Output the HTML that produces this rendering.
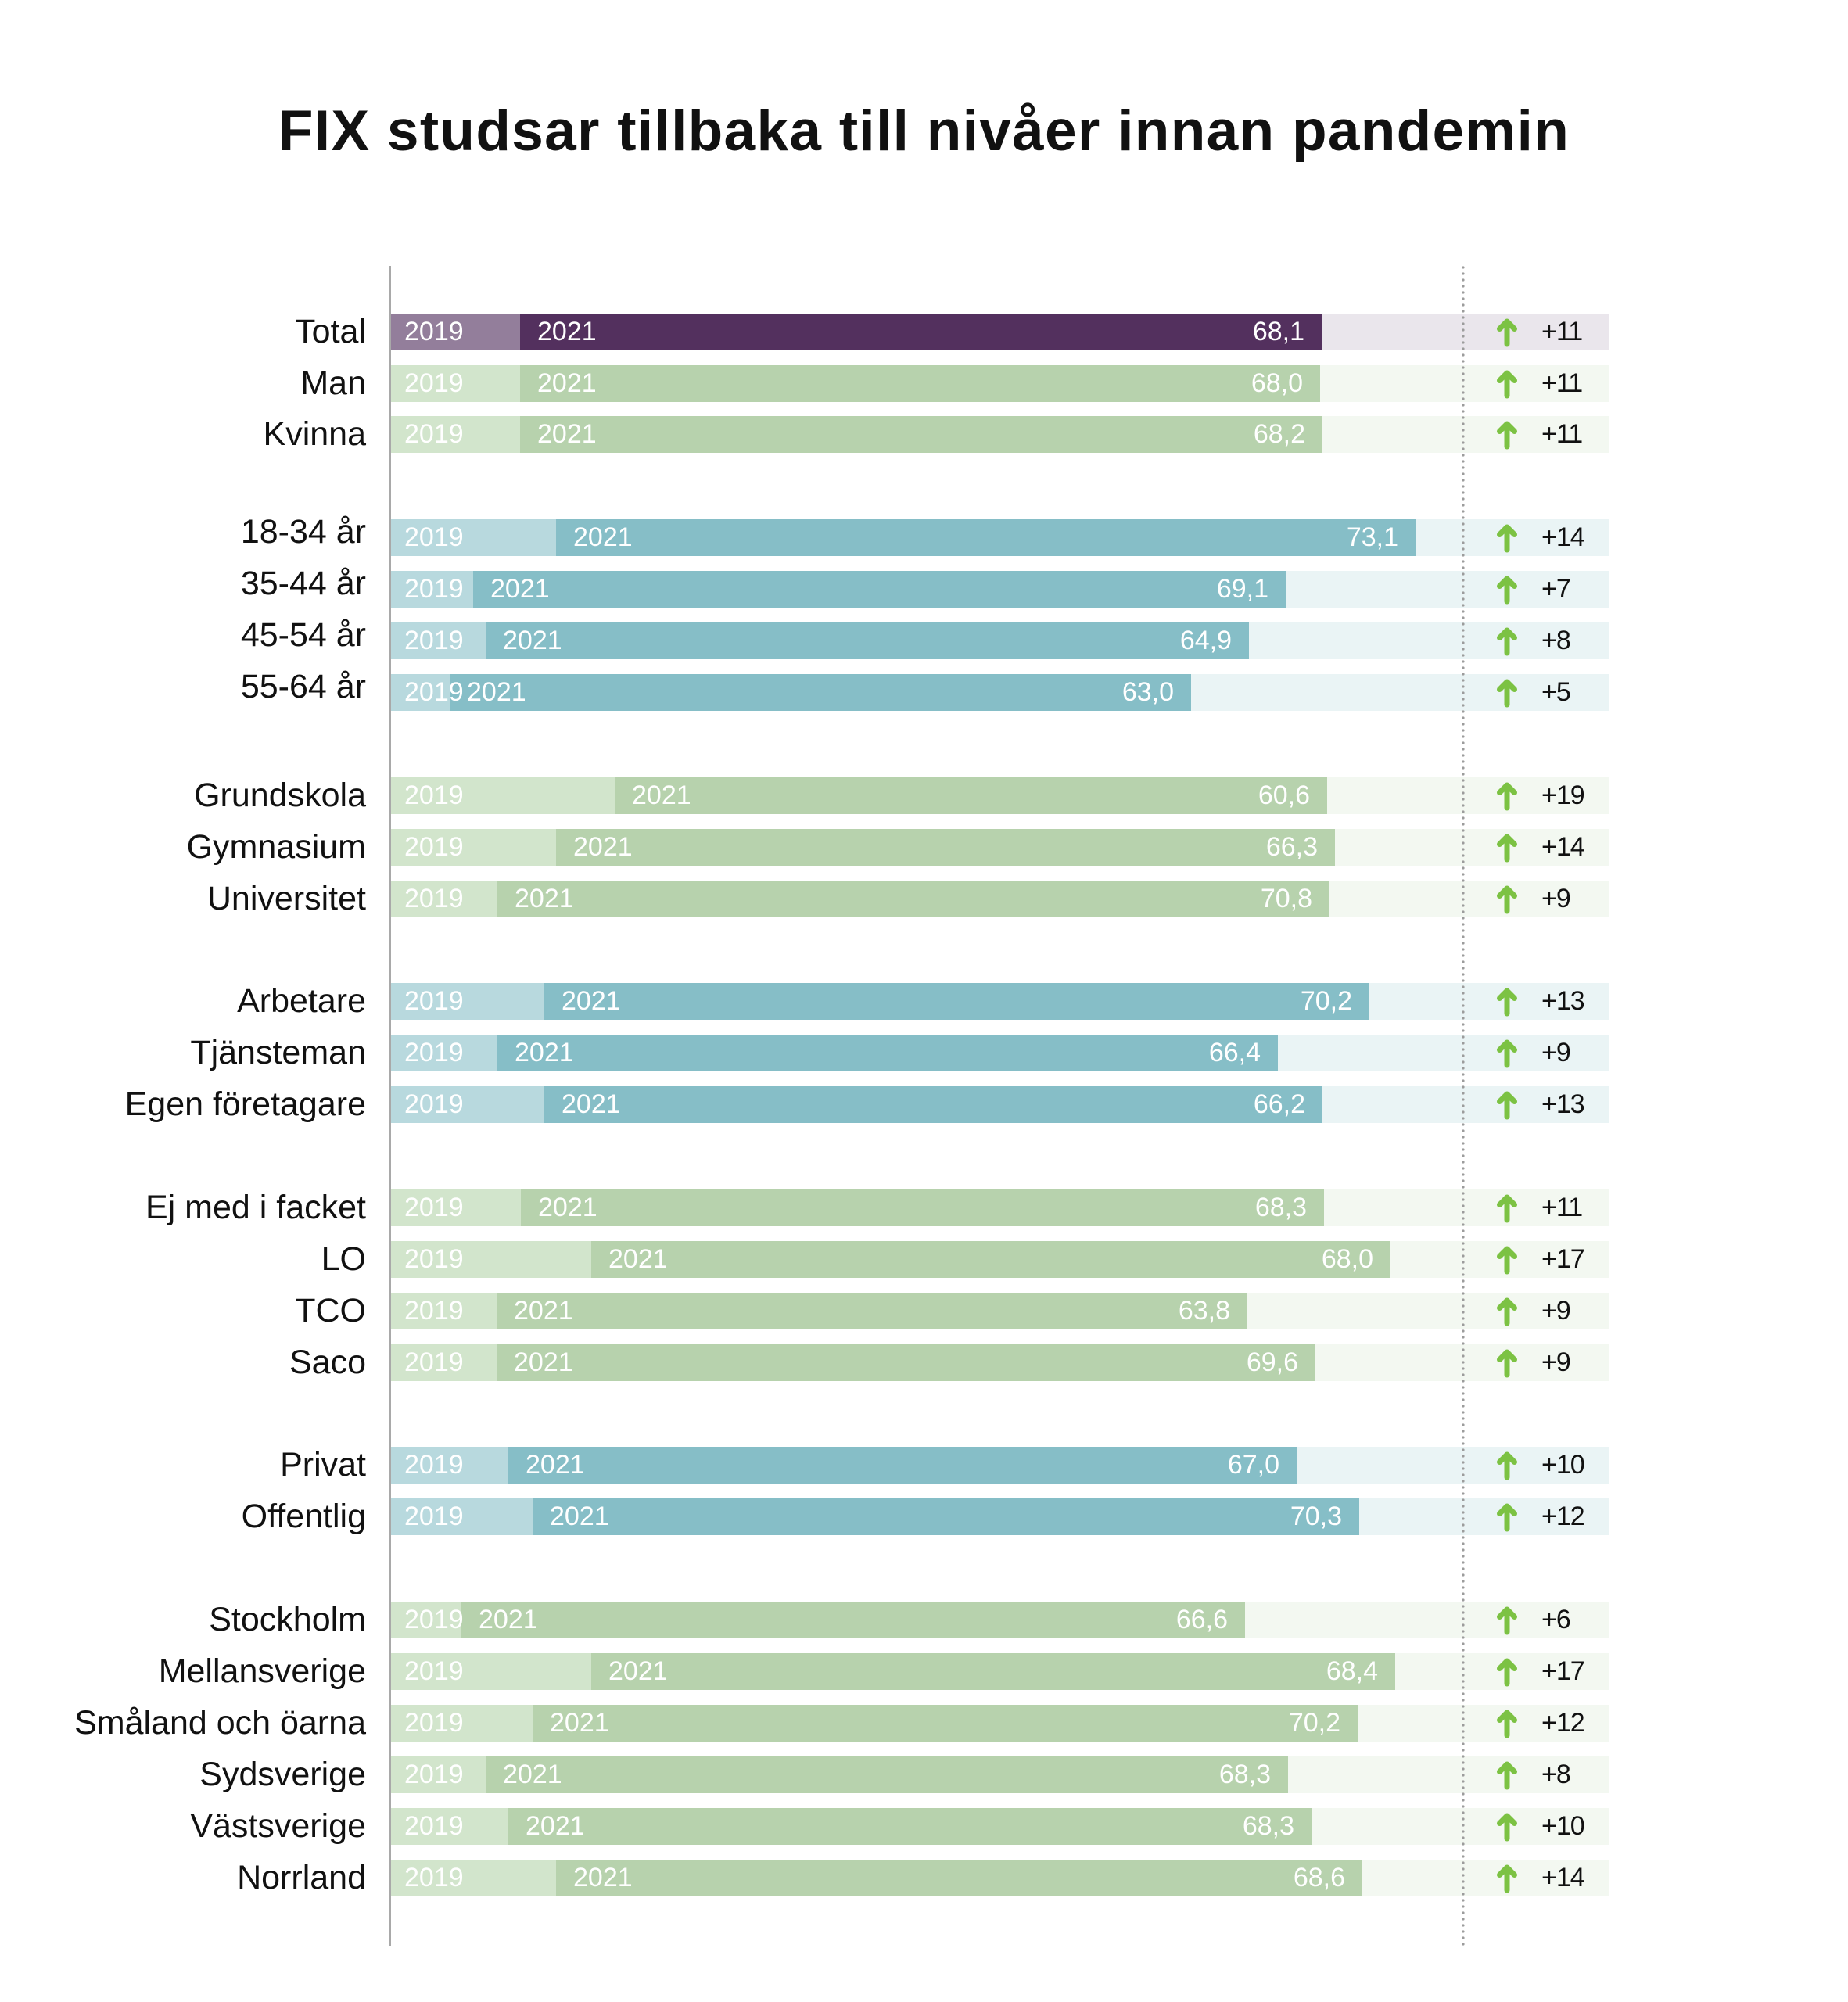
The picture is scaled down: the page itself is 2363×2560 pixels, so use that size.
<!DOCTYPE html>
<html lang="sv">
<head>
<meta charset="utf-8">
<style>
html,body{margin:0;padding:0;background:#fff;}
body{width:2363px;height:2560px;position:relative;overflow:hidden;font-family:"Liberation Sans",Arial,sans-serif;}
.title{position:absolute;left:0;top:128px;width:2363px;text-align:center;font-weight:bold;font-size:73px;line-height:80px;letter-spacing:1.3px;color:#111;white-space:nowrap;}
.axis{position:absolute;left:497px;top:340px;width:3px;height:2149px;background:#a9a9a9;}
.dots{position:absolute;left:1868px;top:340px;z-index:5;}
.r{position:absolute;left:0;width:2363px;height:47px;}
.r > *{position:absolute;top:0;height:47px;line-height:47px;white-space:nowrap;}
.lb{left:0;width:468px;text-align:right;font-size:43px;color:#111;}
.lb.up{top:-7px;}
.bg{left:500px;width:1557px;}
.a{left:500px;}
.y1{left:517px;font-size:34px;color:#fff;}
.y2{font-size:34px;color:#fff;}
.v{font-size:34px;color:#fff;text-align:right;}
.ar{left:1912px;width:30px;}
.d{left:1971px;font-size:34px;color:#111;letter-spacing:-1px;}
.p .bg{background:#EAE6EC}.p .a{background:#937E9B}.p .b{background:#53305E}
.g .bg{background:#F3F8F1}.g .a{background:#D2E5CC}.g .b{background:#B7D2AD}
.t .bg{background:#EAF4F5}.t .a{background:#B8D9DE}.t .b{background:#86BEC7}
</style>
</head>
<body>
<div class="title">FIX studsar tillbaka till nivåer innan pandemin</div>
<div class="axis"></div>
<svg class="dots" width="6" height="2150" viewBox="0 0 6 2150"><line x1="3" y1="2" x2="3" y2="2148" stroke="#9c9c9c" stroke-width="3.2" stroke-dasharray="0 8" stroke-linecap="round"/></svg>

<div class="r p" style="top:401px"><div class="lb">Total</div><div class="bg"></div><div class="a" style="width:165px"></div><div class="b" style="left:665px;width:1025px"></div><span class="y1">2019</span><span class="y2" style="left:687px">2021</span><span class="v" style="right:695px">68,1</span><svg class="ar" viewBox="0 0 30 47"><path d="M15 39V11M5.5 19.5L15 10L24.5 19.5" fill="none" stroke="#7CC243" stroke-width="7" stroke-linecap="round" stroke-linejoin="round"/></svg><span class="d">+11</span></div>

<div class="r g" style="top:467px"><div class="lb">Man</div><div class="bg"></div><div class="a" style="width:165px"></div><div class="b" style="left:665px;width:1023px"></div><span class="y1">2019</span><span class="y2" style="left:687px">2021</span><span class="v" style="right:697px">68,0</span><svg class="ar" viewBox="0 0 30 47"><path d="M15 39V11M5.5 19.5L15 10L24.5 19.5" fill="none" stroke="#7CC243" stroke-width="7" stroke-linecap="round" stroke-linejoin="round"/></svg><span class="d">+11</span></div>

<div class="r g" style="top:532px"><div class="lb">Kvinna</div><div class="bg"></div><div class="a" style="width:165px"></div><div class="b" style="left:665px;width:1026px"></div><span class="y1">2019</span><span class="y2" style="left:687px">2021</span><span class="v" style="right:694px">68,2</span><svg class="ar" viewBox="0 0 30 47"><path d="M15 39V11M5.5 19.5L15 10L24.5 19.5" fill="none" stroke="#7CC243" stroke-width="7" stroke-linecap="round" stroke-linejoin="round"/></svg><span class="d">+11</span></div>

<div class="r t" style="top:664px"><div class="lb up">18-34 år</div><div class="bg"></div><div class="a" style="width:211px"></div><div class="b" style="left:711px;width:1099px"></div><span class="y1">2019</span><span class="y2" style="left:733px">2021</span><span class="v" style="right:575px">73,1</span><svg class="ar" viewBox="0 0 30 47"><path d="M15 39V11M5.5 19.5L15 10L24.5 19.5" fill="none" stroke="#7CC243" stroke-width="7" stroke-linecap="round" stroke-linejoin="round"/></svg><span class="d">+14</span></div>

<div class="r t" style="top:730px"><div class="lb up">35-44 år</div><div class="bg"></div><div class="a" style="width:105px"></div><div class="b" style="left:605px;width:1039px"></div><span class="y1">2019</span><span class="y2" style="left:627px">2021</span><span class="v" style="right:741px">69,1</span><svg class="ar" viewBox="0 0 30 47"><path d="M15 39V11M5.5 19.5L15 10L24.5 19.5" fill="none" stroke="#7CC243" stroke-width="7" stroke-linecap="round" stroke-linejoin="round"/></svg><span class="d">+7</span></div>

<div class="r t" style="top:796px"><div class="lb up">45-54 år</div><div class="bg"></div><div class="a" style="width:121px"></div><div class="b" style="left:621px;width:976px"></div><span class="y1">2019</span><span class="y2" style="left:643px">2021</span><span class="v" style="right:788px">64,9</span><svg class="ar" viewBox="0 0 30 47"><path d="M15 39V11M5.5 19.5L15 10L24.5 19.5" fill="none" stroke="#7CC243" stroke-width="7" stroke-linecap="round" stroke-linejoin="round"/></svg><span class="d">+8</span></div>

<div class="r t" style="top:862px"><div class="lb up">55-64 år</div><div class="bg"></div><div class="a" style="width:75px"></div><div class="b" style="left:575px;width:948px"></div><span class="y1">2019</span><span class="y2" style="left:597px">2021</span><span class="v" style="right:862px">63,0</span><svg class="ar" viewBox="0 0 30 47"><path d="M15 39V11M5.5 19.5L15 10L24.5 19.5" fill="none" stroke="#7CC243" stroke-width="7" stroke-linecap="round" stroke-linejoin="round"/></svg><span class="d">+5</span></div>

<div class="r g" style="top:994px"><div class="lb">Grundskola</div><div class="bg"></div><div class="a" style="width:286px"></div><div class="b" style="left:786px;width:911px"></div><span class="y1">2019</span><span class="y2" style="left:808px">2021</span><span class="v" style="right:688px">60,6</span><svg class="ar" viewBox="0 0 30 47"><path d="M15 39V11M5.5 19.5L15 10L24.5 19.5" fill="none" stroke="#7CC243" stroke-width="7" stroke-linecap="round" stroke-linejoin="round"/></svg><span class="d">+19</span></div>

<div class="r g" style="top:1060px"><div class="lb">Gymnasium</div><div class="bg"></div><div class="a" style="width:211px"></div><div class="b" style="left:711px;width:996px"></div><span class="y1">2019</span><span class="y2" style="left:733px">2021</span><span class="v" style="right:678px">66,3</span><svg class="ar" viewBox="0 0 30 47"><path d="M15 39V11M5.5 19.5L15 10L24.5 19.5" fill="none" stroke="#7CC243" stroke-width="7" stroke-linecap="round" stroke-linejoin="round"/></svg><span class="d">+14</span></div>

<div class="r g" style="top:1126px"><div class="lb">Universitet</div><div class="bg"></div><div class="a" style="width:136px"></div><div class="b" style="left:636px;width:1064px"></div><span class="y1">2019</span><span class="y2" style="left:658px">2021</span><span class="v" style="right:685px">70,8</span><svg class="ar" viewBox="0 0 30 47"><path d="M15 39V11M5.5 19.5L15 10L24.5 19.5" fill="none" stroke="#7CC243" stroke-width="7" stroke-linecap="round" stroke-linejoin="round"/></svg><span class="d">+9</span></div>

<div class="r t" style="top:1257px"><div class="lb">Arbetare</div><div class="bg"></div><div class="a" style="width:196px"></div><div class="b" style="left:696px;width:1055px"></div><span class="y1">2019</span><span class="y2" style="left:718px">2021</span><span class="v" style="right:634px">70,2</span><svg class="ar" viewBox="0 0 30 47"><path d="M15 39V11M5.5 19.5L15 10L24.5 19.5" fill="none" stroke="#7CC243" stroke-width="7" stroke-linecap="round" stroke-linejoin="round"/></svg><span class="d">+13</span></div>

<div class="r t" style="top:1323px"><div class="lb">Tjänsteman</div><div class="bg"></div><div class="a" style="width:136px"></div><div class="b" style="left:636px;width:998px"></div><span class="y1">2019</span><span class="y2" style="left:658px">2021</span><span class="v" style="right:751px">66,4</span><svg class="ar" viewBox="0 0 30 47"><path d="M15 39V11M5.5 19.5L15 10L24.5 19.5" fill="none" stroke="#7CC243" stroke-width="7" stroke-linecap="round" stroke-linejoin="round"/></svg><span class="d">+9</span></div>

<div class="r t" style="top:1389px"><div class="lb">Egen företagare</div><div class="bg"></div><div class="a" style="width:196px"></div><div class="b" style="left:696px;width:995px"></div><span class="y1">2019</span><span class="y2" style="left:718px">2021</span><span class="v" style="right:694px">66,2</span><svg class="ar" viewBox="0 0 30 47"><path d="M15 39V11M5.5 19.5L15 10L24.5 19.5" fill="none" stroke="#7CC243" stroke-width="7" stroke-linecap="round" stroke-linejoin="round"/></svg><span class="d">+13</span></div>

<div class="r g" style="top:1521px"><div class="lb">Ej med i facket</div><div class="bg"></div><div class="a" style="width:166px"></div><div class="b" style="left:666px;width:1027px"></div><span class="y1">2019</span><span class="y2" style="left:688px">2021</span><span class="v" style="right:692px">68,3</span><svg class="ar" viewBox="0 0 30 47"><path d="M15 39V11M5.5 19.5L15 10L24.5 19.5" fill="none" stroke="#7CC243" stroke-width="7" stroke-linecap="round" stroke-linejoin="round"/></svg><span class="d">+11</span></div>

<div class="r g" style="top:1587px"><div class="lb">LO</div><div class="bg"></div><div class="a" style="width:256px"></div><div class="b" style="left:756px;width:1022px"></div><span class="y1">2019</span><span class="y2" style="left:778px">2021</span><span class="v" style="right:607px">68,0</span><svg class="ar" viewBox="0 0 30 47"><path d="M15 39V11M5.5 19.5L15 10L24.5 19.5" fill="none" stroke="#7CC243" stroke-width="7" stroke-linecap="round" stroke-linejoin="round"/></svg><span class="d">+17</span></div>

<div class="r g" style="top:1653px"><div class="lb">TCO</div><div class="bg"></div><div class="a" style="width:135px"></div><div class="b" style="left:635px;width:960px"></div><span class="y1">2019</span><span class="y2" style="left:657px">2021</span><span class="v" style="right:790px">63,8</span><svg class="ar" viewBox="0 0 30 47"><path d="M15 39V11M5.5 19.5L15 10L24.5 19.5" fill="none" stroke="#7CC243" stroke-width="7" stroke-linecap="round" stroke-linejoin="round"/></svg><span class="d">+9</span></div>

<div class="r g" style="top:1719px"><div class="lb">Saco</div><div class="bg"></div><div class="a" style="width:135px"></div><div class="b" style="left:635px;width:1047px"></div><span class="y1">2019</span><span class="y2" style="left:657px">2021</span><span class="v" style="right:703px">69,6</span><svg class="ar" viewBox="0 0 30 47"><path d="M15 39V11M5.5 19.5L15 10L24.5 19.5" fill="none" stroke="#7CC243" stroke-width="7" stroke-linecap="round" stroke-linejoin="round"/></svg><span class="d">+9</span></div>

<div class="r t" style="top:1850px"><div class="lb">Privat</div><div class="bg"></div><div class="a" style="width:150px"></div><div class="b" style="left:650px;width:1008px"></div><span class="y1">2019</span><span class="y2" style="left:672px">2021</span><span class="v" style="right:727px">67,0</span><svg class="ar" viewBox="0 0 30 47"><path d="M15 39V11M5.5 19.5L15 10L24.5 19.5" fill="none" stroke="#7CC243" stroke-width="7" stroke-linecap="round" stroke-linejoin="round"/></svg><span class="d">+10</span></div>

<div class="r t" style="top:1916px"><div class="lb">Offentlig</div><div class="bg"></div><div class="a" style="width:181px"></div><div class="b" style="left:681px;width:1057px"></div><span class="y1">2019</span><span class="y2" style="left:703px">2021</span><span class="v" style="right:647px">70,3</span><svg class="ar" viewBox="0 0 30 47"><path d="M15 39V11M5.5 19.5L15 10L24.5 19.5" fill="none" stroke="#7CC243" stroke-width="7" stroke-linecap="round" stroke-linejoin="round"/></svg><span class="d">+12</span></div>

<div class="r g" style="top:2048px"><div class="lb">Stockholm</div><div class="bg"></div><div class="a" style="width:90px"></div><div class="b" style="left:590px;width:1002px"></div><span class="y1">2019</span><span class="y2" style="left:612px">2021</span><span class="v" style="right:793px">66,6</span><svg class="ar" viewBox="0 0 30 47"><path d="M15 39V11M5.5 19.5L15 10L24.5 19.5" fill="none" stroke="#7CC243" stroke-width="7" stroke-linecap="round" stroke-linejoin="round"/></svg><span class="d">+6</span></div>

<div class="r g" style="top:2114px"><div class="lb">Mellansverige</div><div class="bg"></div><div class="a" style="width:256px"></div><div class="b" style="left:756px;width:1028px"></div><span class="y1">2019</span><span class="y2" style="left:778px">2021</span><span class="v" style="right:601px">68,4</span><svg class="ar" viewBox="0 0 30 47"><path d="M15 39V11M5.5 19.5L15 10L24.5 19.5" fill="none" stroke="#7CC243" stroke-width="7" stroke-linecap="round" stroke-linejoin="round"/></svg><span class="d">+17</span></div>

<div class="r g" style="top:2180px"><div class="lb">Småland och öarna</div><div class="bg"></div><div class="a" style="width:181px"></div><div class="b" style="left:681px;width:1055px"></div><span class="y1">2019</span><span class="y2" style="left:703px">2021</span><span class="v" style="right:649px">70,2</span><svg class="ar" viewBox="0 0 30 47"><path d="M15 39V11M5.5 19.5L15 10L24.5 19.5" fill="none" stroke="#7CC243" stroke-width="7" stroke-linecap="round" stroke-linejoin="round"/></svg><span class="d">+12</span></div>

<div class="r g" style="top:2246px"><div class="lb">Sydsverige</div><div class="bg"></div><div class="a" style="width:121px"></div><div class="b" style="left:621px;width:1026px"></div><span class="y1">2019</span><span class="y2" style="left:643px">2021</span><span class="v" style="right:738px">68,3</span><svg class="ar" viewBox="0 0 30 47"><path d="M15 39V11M5.5 19.5L15 10L24.5 19.5" fill="none" stroke="#7CC243" stroke-width="7" stroke-linecap="round" stroke-linejoin="round"/></svg><span class="d">+8</span></div>

<div class="r g" style="top:2312px"><div class="lb">Västsverige</div><div class="bg"></div><div class="a" style="width:150px"></div><div class="b" style="left:650px;width:1027px"></div><span class="y1">2019</span><span class="y2" style="left:672px">2021</span><span class="v" style="right:708px">68,3</span><svg class="ar" viewBox="0 0 30 47"><path d="M15 39V11M5.5 19.5L15 10L24.5 19.5" fill="none" stroke="#7CC243" stroke-width="7" stroke-linecap="round" stroke-linejoin="round"/></svg><span class="d">+10</span></div>

<div class="r g" style="top:2378px"><div class="lb">Norrland</div><div class="bg"></div><div class="a" style="width:211px"></div><div class="b" style="left:711px;width:1031px"></div><span class="y1">2019</span><span class="y2" style="left:733px">2021</span><span class="v" style="right:643px">68,6</span><svg class="ar" viewBox="0 0 30 47"><path d="M15 39V11M5.5 19.5L15 10L24.5 19.5" fill="none" stroke="#7CC243" stroke-width="7" stroke-linecap="round" stroke-linejoin="round"/></svg><span class="d">+14</span></div>

</body>
</html>
